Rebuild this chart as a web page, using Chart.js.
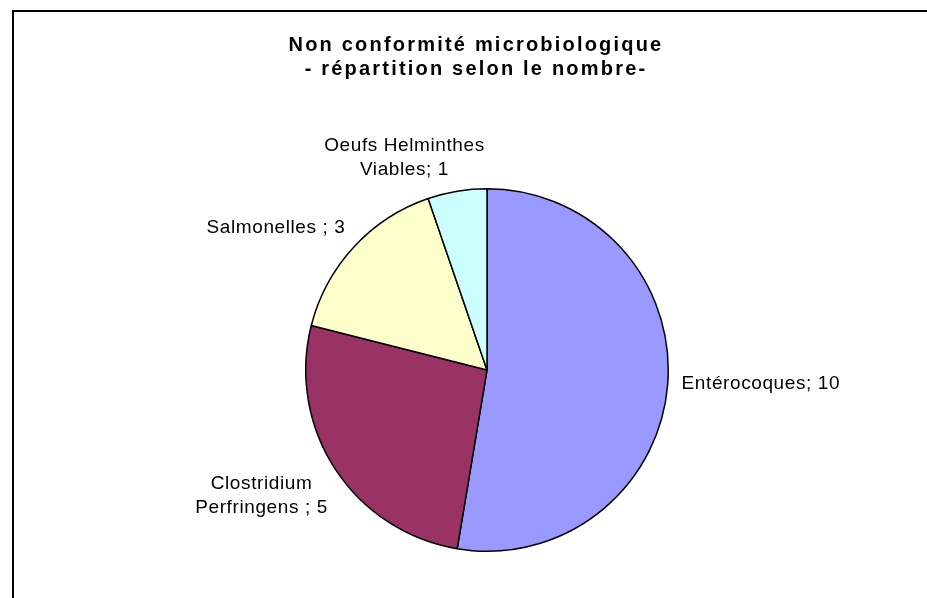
<!DOCTYPE html>
<html>
<head>
<meta charset="utf-8">
<title>Non conformité microbiologique</title>
<script src="https://cdn.jsdelivr.net/npm/chart.js@4.4.1/dist/chart.umd.min.js"></script>
<style>
  html, body { margin: 0; padding: 0; background: #fff; }
  canvas { display: block; }
</style>
</head>
<body>
<canvas id="pie" width="927" height="598"></canvas>
<script>
// données du graphique
const categories = [['Entérocoques'], ['Clostridium', 'Perfringens '], ['Salmonelles '], ['Oeufs Helminthes', 'Viables']];
const counts = [10, 5, 3, 1];
const sliceColors = ['#9999FF', '#993366', '#FFFFCC', '#CCFFFF'];
const titleLines = ['Non conformité microbiologique', '- répartition selon le nombre-'];

// petits décalages des étiquettes (placement façon Excel)
const labelNudge = [[2, -5], [2, -2], [0, -4], [29, 14]];

const LABEL_FONT = '19px "Liberation Sans", Arial, sans-serif';
const LABEL_SPACING = 0.6;
const TITLE_FONT = 'bold 20px "Liberation Sans", Arial, sans-serif';

// cadre + titre + étiquettes "nom; valeur"
const excelLook = {
  id: 'excelLook',
  beforeDraw(chart) {
    const ctx = chart.ctx;
    ctx.save();
    ctx.fillStyle = '#fff';
    ctx.fillRect(0, 0, chart.width, chart.height);
    ctx.strokeStyle = '#000';
    ctx.lineWidth = 2;
    ctx.strokeRect(13, 11, chart.width + 20, chart.height + 20);
    ctx.restore();
  },
  afterDraw(chart) {
    const ctx = chart.ctx;
    ctx.save();
    ctx.fillStyle = '#000';

    ctx.font = TITLE_FONT;
    ctx.letterSpacing = '2.2px';
    ctx.textAlign = 'center';
    titleLines.forEach((t, i) => ctx.fillText(t, 476, 51 + i * 24));

    ctx.font = LABEL_FONT;
    ctx.letterSpacing = LABEL_SPACING + 'px';
    ctx.textAlign = 'left';
    const gap = 12, capH = 14, lineH = 24;
    chart.getDatasetMeta(0).data.forEach((arc, i) => {
      const p = arc.getProps(['x', 'y', 'startAngle', 'endAngle', 'outerRadius'], true);
      const mid = (p.startAngle + p.endAngle) / 2;
      const cos = Math.cos(mid), sin = Math.sin(mid);
      const lines = categories[i].slice();
      lines[lines.length - 1] += '; ' + counts[i];

      const widths = lines.map(l => ctx.measureText(l).width - LABEL_SPACING);
      const w = Math.max(...widths);
      const h = capH + lineH * (lines.length - 1);

      const ax = p.x + cos * (p.outerRadius + gap);
      const ay = p.y + sin * (p.outerRadius + gap);
      const left = (cos >= 0 ? ax : ax - w) + labelNudge[i][0];
      const midY = ay + sin * h + labelNudge[i][1];
      const top = midY - h / 2;

      lines.forEach((l, k) => {
        ctx.fillText(l, left + (w - widths[k]) / 2, top + capH + k * lineH);
      });
    });
    ctx.restore();
  }
};

new Chart(document.getElementById('pie'), {
  type: 'pie',
  data: {
    labels: categories,
    datasets: [{
      data: counts,
      backgroundColor: sliceColors,
      borderColor: '#000',
      borderWidth: 1.5
    }]
  },
  options: {
    responsive: false,
    animation: false,
    layout: { padding: { top: 188, bottom: 46, left: 305, right: 258 } },
    plugins: {
      legend: { display: false },
      title: { display: false },
      tooltip: { enabled: false }
    }
  },
  plugins: [excelLook]
});
</script>
</body>
</html>
